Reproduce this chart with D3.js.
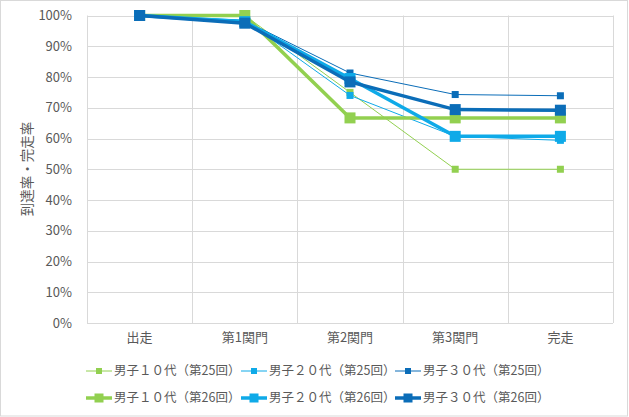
<!DOCTYPE html>
<html>
<head>
<meta charset="utf-8">
<script src="https://cdn.jsdelivr.net/npm/d3@7"></script>
<style>
  body { margin: 0; background: #fff; }
  text { font-family: "Noto Sans CJK JP", "Noto Sans", sans-serif; fill: #595959; }
</style>
</head>
<body>
<div id="chart"></div>
<script>
var categories = ["出走", "第1関門", "第2関門", "第3関門", "完走"];
var yTicks = [0, 0.1, 0.2, 0.3, 0.4, 0.5, 0.6, 0.7, 0.8, 0.9, 1];

var m10_25 = [1, 1, 0.75, 0.5, 0.5];
var m20_25 = [1, 0.985, 0.74, 0.607, 0.594];
var m30_25 = [1, 0.983, 0.813, 0.743, 0.739];
var m10_26 = [1, 1, 0.667, 0.667, 0.667];
var m20_26 = [1, 0.98, 0.795, 0.607, 0.607];
var m30_26 = [1, 0.975, 0.784, 0.694, 0.692];

var seriesNames = ["男子１０代（第25回）", "男子２０代（第25回）", "男子３０代（第25回）",
                   "男子１０代（第26回）", "男子２０代（第26回）", "男子３０代（第26回）"];

var green = "#92D050", cyan = "#0FAAE8", blue = "#0B6DB8";
var series = [
  {name: seriesNames[0], values: m10_25, color: green, thick: false},
  {name: seriesNames[1], values: m20_25, color: cyan, thick: false},
  {name: seriesNames[2], values: m30_25, color: blue, thick: false},
  {name: seriesNames[3], values: m10_26, color: green, thick: true},
  {name: seriesNames[4], values: m20_26, color: cyan, thick: true},
  {name: seriesNames[5], values: m30_26, color: blue, thick: true}
];

var w = 629, h = 417;
var plotLeft = 87, plotRight = 613, plotTop = 15.5, plotBottom = 323;

var svg = d3.select("#chart").append("svg")
  .attr("width", w).attr("height", h);

// outer border of the chart
svg.append("rect")
  .attr("x", 0.5).attr("y", 0.5)
  .attr("width", w - 2).attr("height", h - 1.5)
  .attr("fill", "#fff").attr("stroke", "#D9D9D9");

var x = d3.scaleBand().domain(categories).range([plotLeft, plotRight]);
var y = d3.scaleLinear().domain([0, 1]).range([plotBottom, plotTop]);

// horizontal grid
svg.append("g").selectAll("line")
  .data(yTicks).enter().append("line")
  .attr("x1", plotLeft).attr("x2", plotRight)
  .attr("y1", function(d) { return Math.round(y(d)) + 0.5; })
  .attr("y2", function(d) { return Math.round(y(d)) + 0.5; })
  .attr("stroke", "#D9D9D9");

// vertical grid (band edges)
var edges = categories.map(function(c) { return x(c); }).concat([plotRight]);
svg.append("g").selectAll("line")
  .data(edges).enter().append("line")
  .attr("x1", function(d) { return Math.round(d) + 0.5; })
  .attr("x2", function(d) { return Math.round(d) + 0.5; })
  .attr("y1", plotTop).attr("y2", plotBottom)
  .attr("stroke", "#D9D9D9");

// y axis labels
var yAxis = d3.axisLeft(y).tickValues(yTicks).tickFormat(d3.format(".0%")).tickSize(0).tickPadding(15);
var gy = svg.append("g").attr("transform", "translate(" + plotLeft + ",0)").call(yAxis);
gy.select(".domain").remove();
gy.selectAll("text").style("font-size", "13px").attr("fill", "#595959");

// x axis labels
var xAxis = d3.axisBottom(x).tickSize(0).tickPadding(10);
var gx = svg.append("g").attr("transform", "translate(0," + plotBottom + ")").call(xAxis);
gx.select(".domain").remove();
gx.selectAll("text").style("font-size", "13px").attr("fill", "#595959");

// y axis title
svg.append("text")
  .attr("transform", "translate(32,169) rotate(-90)")
  .attr("text-anchor", "middle")
  .style("font-size", "13.5px")
  .text("到達率・完走率");

var line = d3.line()
  .x(function(d, i) { return x(categories[i]) + x.bandwidth() / 2; })
  .y(function(d) { return y(d); });

series.forEach(function(s) {
  var g = svg.append("g");
  g.append("path")
    .datum(s.values)
    .attr("d", line)
    .attr("fill", "none")
    .attr("stroke", s.color)
    .attr("stroke-width", s.thick ? 3.5 : 1);
  var ms = s.thick ? 11 : 7;
  g.selectAll("rect")
    .data(s.values).enter().append("rect")
    .attr("x", function(d, i) { return x(categories[i]) + x.bandwidth() / 2 - ms / 2; })
    .attr("y", function(d) { return y(d) - ms / 2; })
    .attr("width", ms).attr("height", ms)
    .attr("fill", s.color);
});

// legend
var legX = [86, 241, 395], legY = [371, 398];
series.forEach(function(s, i) {
  var lx = legX[i % 3], ly = legY[Math.floor(i / 3)];
  var g = svg.append("g").attr("transform", "translate(" + lx + "," + ly + ")");
  g.append("line")
    .attr("x1", 0).attr("x2", 26).attr("y1", 0).attr("y2", 0)
    .attr("stroke", s.color).attr("stroke-width", s.thick ? 3.5 : 1);
  var ms = s.thick ? 9 : 6;
  g.append("rect")
    .attr("x", 13 - ms / 2).attr("y", -ms / 2)
    .attr("width", ms).attr("height", ms)
    .attr("fill", s.color);
  g.append("text")
    .attr("x", 28).attr("y", 0).attr("dy", "0.35em")
    .style("font-size", "12.5px")
    .text(s.name);
});
</script>
</body>
</html>
